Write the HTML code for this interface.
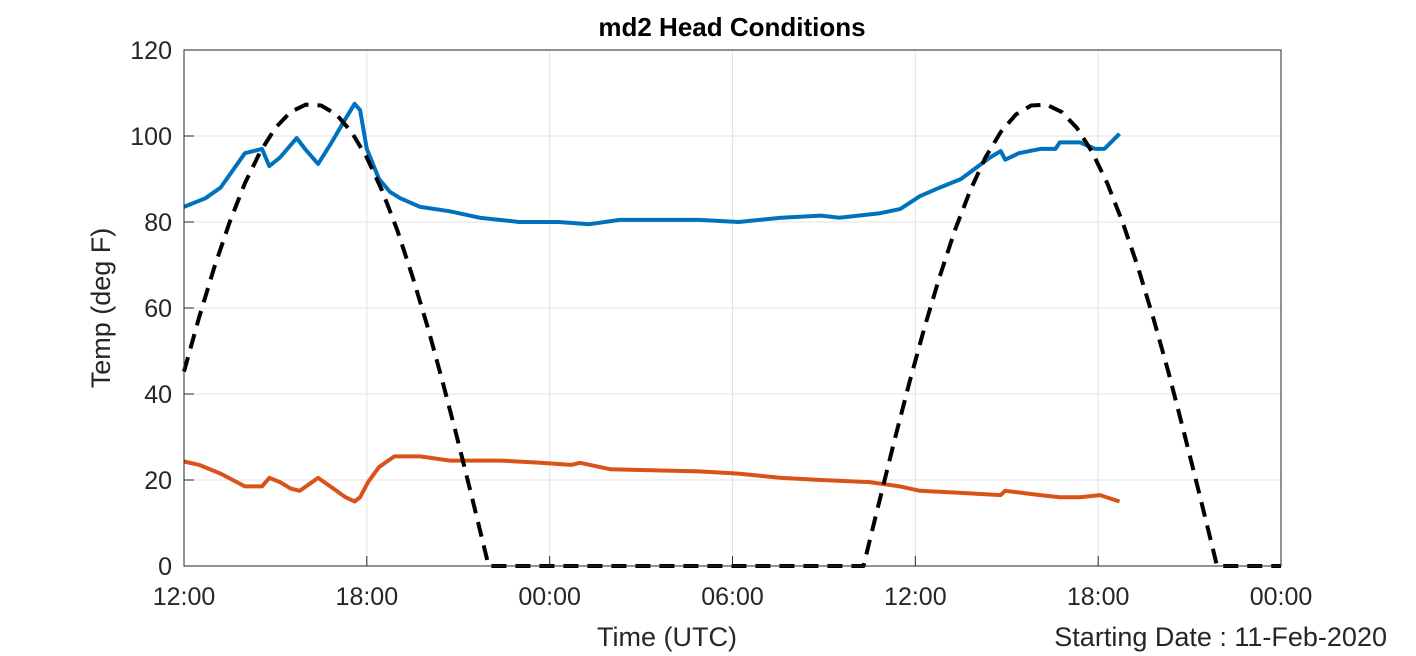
<!DOCTYPE html>
<html><head><meta charset="utf-8"><style>
body{margin:0;background:#fff;}
svg{display:block;font-family:"Liberation Sans",sans-serif;}
</style></head><body>
<svg id="chart" width="1416" height="656">
<rect width="1416" height="656" fill="#fff"/>
<g id="grid"></g>
<g id="series"></g>
<rect x="184" y="50" width="1097" height="516" fill="none" stroke="#262626" stroke-width="1"/>
<g id="ticks"></g>
<text x="732" y="36" text-anchor="middle" font-size="26" font-weight="bold" fill="#000">md2 Head Conditions</text>
<text x="0" y="0" transform="translate(110,308) rotate(-90)" text-anchor="middle" font-size="27" fill="#262626">Temp (deg F)</text>
<text x="667" y="646" text-anchor="middle" font-size="27" fill="#262626">Time (UTC)</text>
<text x="1387" y="646" text-anchor="end" font-size="27" fill="#262626">Starting Date : 11-Feb-2020</text>
</svg>
<script>
const xTickLabels=["12:00","18:00","00:00","06:00","12:00","18:00","00:00"];
const xTickHours=[0,6,12,18,24,30,36];
const yTicks=[0,20,40,60,80,100,120];
const blueHours=[0,0.7,1.2,2,2.56,2.8,3.15,3.7,3.97,4.4,4.8,5.3,5.6,5.78,6,6.4,6.76,7.1,7.75,8.73,9.7,11,12.3,13.3,14.3,16.9,18.2,19.6,20.9,21.5,22.8,23.5,24.15,24.8,25.5,26.45,26.8,26.95,27.4,28.1,28.6,28.74,29.4,29.9,30.2,30.7];
const blueTemps=[83.5,85.5,88,96,97,93,95,99.5,97,93.5,98,104,107.5,106,97,90,87,85.5,83.5,82.5,81,80,80,79.5,80.5,80.5,80,81,81.5,81,82,83,86,88,90,95,96.5,94.5,96,97,97,98.5,98.5,97,97,100.5];
const orangeHours=[0,0.5,1.2,2,2.56,2.8,3.15,3.5,3.8,4.4,4.8,5.3,5.6,5.78,6.04,6.4,6.9,7.75,8.73,10.4,11.7,12.7,13,14,16.9,18.2,19.6,20.9,22.5,23.5,24.15,25.5,26.8,26.95,28.1,28.74,29.4,30.06,30.7];
const orangeTemps=[24.3,23.5,21.5,18.5,18.5,20.5,19.5,18,17.5,20.5,18.5,16,15,16,19.5,23,25.5,25.5,24.5,24.5,24,23.5,24,22.5,22,21.5,20.5,20,19.5,18.5,17.5,17,16.5,17.5,16.5,16,16,16.5,15];
const sunHours=[0,0.5,1,1.5,2,2.5,3,3.5,4,4.5,5,5.5,6,6.5,7,7.5,8,8.5,9,9.5,10,22.3,22.8,23.3,23.8,24.3,24.8,25.3,25.8,26.3,26.8,27.3,27.8,28.3,28.8,29.3,29.8,30.3,30.8,31.3,31.8,32.3,32.8,33.3,33.8,33.9,36];
const sunValues=[45.2,57.9,69.6,80,89,96.3,101.9,105.6,107.3,107.1,105,100.9,95,87.3,78.1,67.3,55.5,42.5,28.8,14.5,0,0,14.5,28.8,42.5,55.5,67.3,78.1,87.3,95,100.9,105,107.1,107.3,105.6,101.9,96.3,89,80,69.6,57.9,45.2,31.5,17.4,2.9,0,0];

const X0=184,X1=1281,Y0=566,Y1=50;
const xs=h=>X0+(h/36)*(X1-X0);
const ys=v=>Y0-(v/120)*(Y0-Y1);
const NS="http://www.w3.org/2000/svg";
const grid=document.getElementById('grid'),ticks=document.getElementById('ticks'),series=document.getElementById('series');
function mk(tag,attrs,parent){const e=document.createElementNS(NS,tag);for(const k in attrs)e.setAttribute(k,attrs[k]);parent.appendChild(e);return e;}
xTickHours.forEach((h,i)=>{
  const x=xs(h);
  const g=mk('line',{x1:x,x2:x,y1:Y1,y2:Y0,stroke:'#e3e3e3','stroke-width':1},grid);
  
  
  const t=mk('line',{x1:x,x2:x,y1:Y0,y2:Y0-10,stroke:'#262626'},ticks);
  
  
  const l=mk('text',{x:x,y:605,'text-anchor':'middle','font-size':25,fill:'#262626'},ticks);
  l.textContent=xTickLabels[i];
  
  
});
yTicks.forEach(v=>{
  const y=ys(v);
  const g=mk('line',{x1:X0,x2:X1,y1:y,y2:y,stroke:'#e3e3e3','stroke-width':1},grid);
  
  
  const t=mk('line',{x1:X0,x2:X0+10,y1:y,y2:y,stroke:'#262626'},ticks);
  
  
  const l=mk('text',{x:172,y:y+9,'text-anchor':'end','font-size':25,fill:'#262626'},ticks);
  l.textContent=v;
  
  
});
function linePath(hs,vs){return hs.map((h,i)=>(i?'L':'M')+xs(h).toFixed(1)+','+ys(vs[i]).toFixed(1)).join('');}
const b=mk('path',{d:linePath(blueHours,blueTemps),fill:'none',stroke:'#0072bd','stroke-width':4,'stroke-linejoin':'round'},series);


const o=mk('path',{d:linePath(orangeHours,orangeTemps),fill:'none',stroke:'#d95319','stroke-width':4,'stroke-linejoin':'round'},series);


const s=mk('path',{d:linePath(sunHours,sunValues),fill:'none',stroke:'#000','stroke-width':4,'stroke-dasharray':'15 9','stroke-linejoin':'round'},series);


</script>
</body></html>
